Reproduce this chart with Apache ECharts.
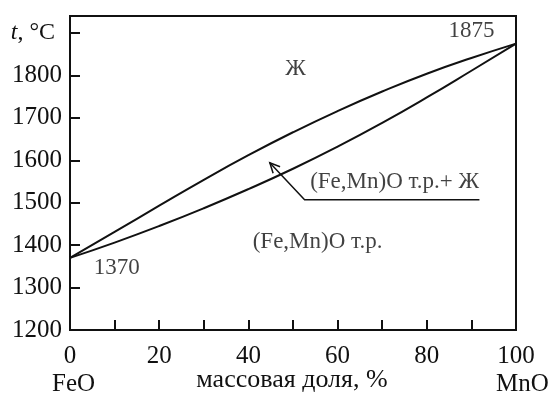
<!DOCTYPE html>
<html><head><meta charset="utf-8">
<script src="https://cdn.jsdelivr.net/npm/echarts@6/dist/echarts.min.js"></script>
<style>html,body{margin:0;padding:0;background:#fff}#c{width:553px;height:394px}</style>
</head><body><div id="c"></div>
<script>
// composition, % MnO
const xValues = [0, 10, 20, 30, 40, 50, 60, 70, 80, 90, 100];
// liquidus (upper curve), °C
const liquidus = [1370, 1431, 1493, 1554, 1612, 1666, 1716, 1762, 1804, 1841, 1875];
// solidus (lower curve), °C
const solidus = [1370, 1406, 1445, 1487, 1532, 1580, 1632, 1688, 1748, 1811, 1875];
// y tick labels
const yTickValues = [1200, 1300, 1400, 1500, 1600, 1700, 1800];
// x tick labels
const xTickValues = [0, 20, 40, 60, 80, 100];
// in-plot annotations [x, T, text]
const notes = [
  [10.5, 1346, '1370'],
  [90, 1904, '1875'],
  [50.6, 1816, 'Ж'],
  [72.8, 1548, '(Fe,Mn)O т.р.+ Ж'],
  [55.5, 1408, '(Fe,Mn)O т.р.']
];
// leader line for the two-phase label: [x, T]
const leader = [[91.8, 1507], [52.6, 1507], [44.8, 1594]];

const FONT = '"Liberation Serif", "DejaVu Serif", serif';
const INK = '#111';

const chart = echarts.init(document.getElementById('c'));
chart.setOption({
  animation: false,
  backgroundColor: '#fff',
  grid: {
    left: 70, right: 37, top: 16, bottom: 64, containLabel: false, outerBoundsMode: 'none',
    show: true, borderColor: INK, borderWidth: 2, backgroundColor: 'transparent'
  },
  xAxis: {
    type: 'value', min: 0, max: 100, interval: 10,
    axisLine: { lineStyle: { color: INK, width: 2 } },
    axisTick: { inside: true, length: 10, lineStyle: { color: INK, width: 2 } },
    axisLabel: {
      margin: 14, fontFamily: FONT, fontSize: 25, color: INK,
      formatter: v => xTickValues.includes(v) ? String(v) : ''
    },
    splitLine: { show: false }
  },
  yAxis: {
    type: 'value', min: 1200, max: 1940, interval: 100,
    axisLine: { lineStyle: { color: INK, width: 2 } },
    axisTick: { inside: true, length: 10, lineStyle: { color: INK, width: 2 } },
    axisLabel: {
      margin: 8, fontFamily: FONT, fontSize: 25, color: INK,
      formatter: v => v === 1900 ? '{i|t}{u|, °C}' : (yTickValues.includes(v) ? String(v) : ''),
      rich: {
        i: { fontFamily: FONT, fontSize: 24, fontStyle: 'italic', color: INK },
        u: { fontFamily: FONT, fontSize: 24, color: INK, padding: [0, 7, 0, 0] }
      }
    },
    splitLine: { show: false }
  },
  graphic: [
    { type: 'text', left: 52, top: 372, style: { text: 'FeO', font: '25px ' + FONT, fill: INK } },
    { type: 'text', left: 496, top: 372, style: { text: 'MnO', font: '25px ' + FONT, fill: INK } },
    { type: 'text', x: 292, y: 380, style: { text: 'массовая доля, %', font: '26px ' + FONT, fill: INK, textAlign: 'center', textVerticalAlign: 'middle' } }
  ],
  series: [
    {
      type: 'line', data: xValues.map((x, i) => [x, liquidus[i]]), smooth: true,
      symbol: 'none', lineStyle: { color: INK, width: 2 }
    },
    {
      type: 'line', data: xValues.map((x, i) => [x, solidus[i]]), smooth: true,
      symbol: 'none', lineStyle: { color: INK, width: 2 }
    },
    {
      type: 'scatter', symbolSize: 0, itemStyle: { color: INK },
      data: notes.map(n => ({ value: [n[0], n[1]], label: { formatter: n[2] } })),
      label: {
        show: true, position: 'inside', fontFamily: FONT, fontSize: 23, color: INK,
        textBorderWidth: 0, textBorderColor: 'transparent'
      }
    },
    {
      type: 'custom',
      data: [0],
      renderItem: (params, api) => {
        const pts = leader.map(p => api.coord(p));
        const tip = pts[pts.length - 1], prev = pts[pts.length - 2];
        const ang = Math.atan2(prev[1] - tip[1], prev[0] - tip[0]);
        const L = 11, w = 0.45;
        const a1 = [tip[0] + L * Math.cos(ang + w), tip[1] + L * Math.sin(ang + w)];
        const a2 = [tip[0] + L * Math.cos(ang - w), tip[1] + L * Math.sin(ang - w)];
        return {
          type: 'group',
          children: [
            { type: 'polyline', shape: { points: pts }, style: { stroke: INK, lineWidth: 1.5, fill: null } },
            { type: 'polyline', shape: { points: [a1, tip, a2] }, style: { stroke: INK, lineWidth: 1.5, fill: null } }
          ]
        };
      }
    }
  ]
});
</script>
</body></html>
